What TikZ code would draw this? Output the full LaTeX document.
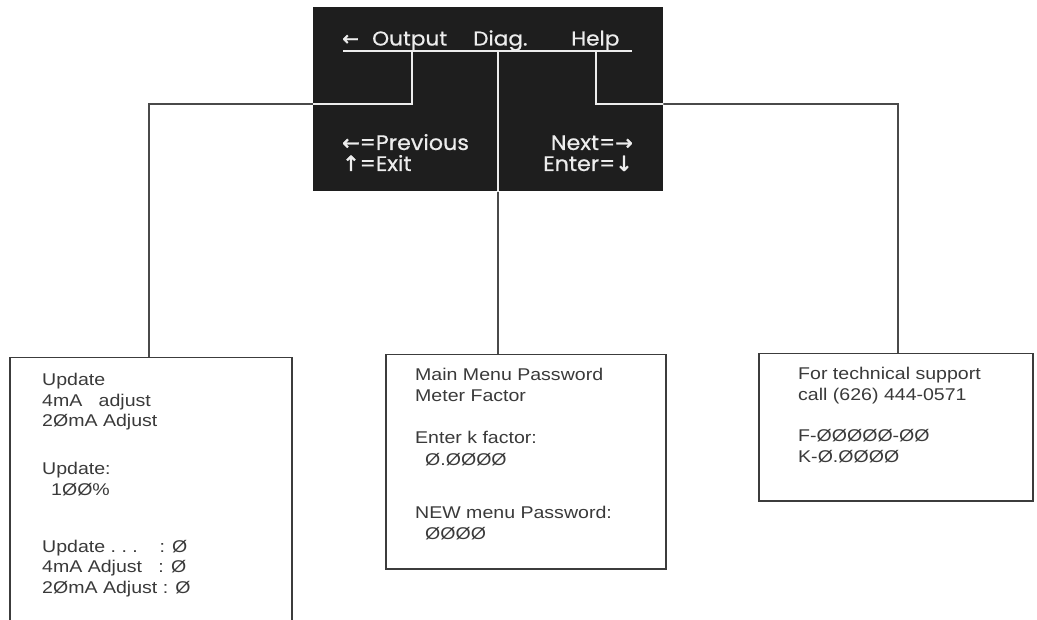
\documentclass[tikz,border=0pt]{standalone}
\usepackage{fontspec}
\setmainfont{Liberation Sans}
\newfontfamily\boxfont[FakeStretch=1.15]{Liberation Sans}
\newfontfamily\menufont[FakeStretch=1.08,FakeBold=0.6]{Poppins}
\newfontfamily\keyfont[FakeStretch=1.06,FakeBold=0.6]{Poppins}
\newfontfamily\arrowfont[FakeBold=1.5]{DejaVu Sans}
\definecolor{panelblack}{HTML}{1E1E1E}
\definecolor{linegray}{HTML}{4A4A4A}
\definecolor{boxgray}{HTML}{3C3C3C}
\definecolor{textgray}{HTML}{3A3A3A}
\definecolor{paneltext}{HTML}{EDEDED}
\tikzset{
  panel/.style={fill=panelblack, draw=none, inner sep=0, anchor=north west},
  conn/.style={draw=linegray, line width=1.5pt},
  connw/.style={draw=paneltext, line width=1.5pt},
  menubox/.style={draw=boxgray, line width=1.5pt, fill=white, inner sep=0, anchor=north west},
  boxtxt/.style={font=\boxfont\fontsize{17}{20.5}\selectfont, text=textgray, anchor=base west, inner sep=0},
  toptxt/.style={font=\menufont\fontsize{20}{22}\selectfont, text=paneltext, anchor=base west, inner sep=0},
  keytxt/.style={font=\keyfont\fontsize{21}{22}\selectfont, text=paneltext, inner sep=0},
}
\begin{document}
\begin{tikzpicture}[x=1pt,y=-1pt]
\useasboundingbox (0,0) rectangle (1037,620);
% dark screen
\node[panel, minimum width=350pt, minimum height=184pt] (screen) at (313,7) {};
% menu boxes
\node[menubox, minimum width=282pt, minimum height=290pt] (update) at (9,357) {};
\node[menubox, minimum width=280pt, minimum height=214pt] (meter) at (385,354) {};
\node[menubox, minimum width=274pt, minimum height=147pt] (support) at (758,353) {};
% tap points on the menu underline
\coordinate (ulstart) at (343,51);
\coordinate (ulend) at (632,51);
\coordinate (outtap) at (412,51);
\coordinate (diagtap) at (498,51);
\coordinate (helptap) at (596,51);
\coordinate (outbend) at (149,104);
\coordinate (helpbend) at (898,104);
% connectors
\draw[conn] (outtap) |- (outbend) -- (outbend |- update.north);
\draw[conn] (diagtap) -- (diagtap |- meter.north);
\draw[conn] (helptap) |- (helpbend) -- (helpbend |- support.north);
% white part inside the screen
\begin{scope}
  \clip (screen.north west) rectangle (screen.south east);
  \draw[connw] (ulstart) -- (ulend);
  \draw[connw] (outtap) |- (outbend) -- (outbend |- update.north);
  \draw[connw] (diagtap) -- (diagtap |- meter.north);
  \draw[connw] (helptap) |- (helpbend) -- (helpbend |- support.north);
\end{scope}
% screen texts
\node[toptxt] (arrowl) at (342,45.5) {{\arrowfont ←}};
\node[toptxt] (output) at (372,45.5) {Output};
\node[toptxt] (diag) at (473,45.5) {Diag.};
\node[toptxt] (help) at (571,45.5) {Help};
\node[keytxt, anchor=base west] (prev) at (342,150) {{\arrowfont ←}=Previous};
\node[keytxt, anchor=base west] (exit) at (342,171) {{\arrowfont ↑}=Exit};
\node[keytxt, anchor=base east] (next) at (633,150) {Next={\arrowfont →}};
\node[keytxt, anchor=base east] (enter) at (633,171) {Enter={\arrowfont ↓}};
% update box texts
\node[boxtxt] (u1) at (42,386) {Update};
\node[boxtxt] (u2) at (42,406.5) {4mA\ \ \ adjust};
\node[boxtxt] (u3) at (42,427) {2ØmA Adjust};
\node[boxtxt] (u4) at (42,475) {Update:};
\node[boxtxt] (u5) at (51,495.5) {1ØØ\%};
\node[boxtxt] (u6) at (42,552) {Update .\ .\ .\ \ \ \ : Ø};
\node[boxtxt] (u7) at (42,572.5) {4mA Adjust\ \ \ : Ø};
\node[boxtxt] (u8) at (42,593) {2ØmA Adjust : Ø};
% meter box texts
\node[boxtxt] (m1) at (415,381) {Main Menu Password};
\node[boxtxt] (m2) at (415,402) {Meter Factor};
\node[boxtxt] (m3) at (415,444) {Enter k factor:};
\node[boxtxt] (m4) at (425,465) {Ø.ØØØØ};
\node[boxtxt] (m5) at (415,518) {NEW menu Password:};
\node[boxtxt] (m6) at (425,539) {ØØØØ};
% support box texts
\node[boxtxt] (s1) at (798,380) {For technical support};
\node[boxtxt] (s2) at (798,401) {call (626) 444-0571};
\node[boxtxt] (s3) at (798,442) {F-ØØØØØ-ØØ};
\node[boxtxt] (s4) at (798,462) {K-Ø.ØØØØ};
\end{tikzpicture}
\end{document}
